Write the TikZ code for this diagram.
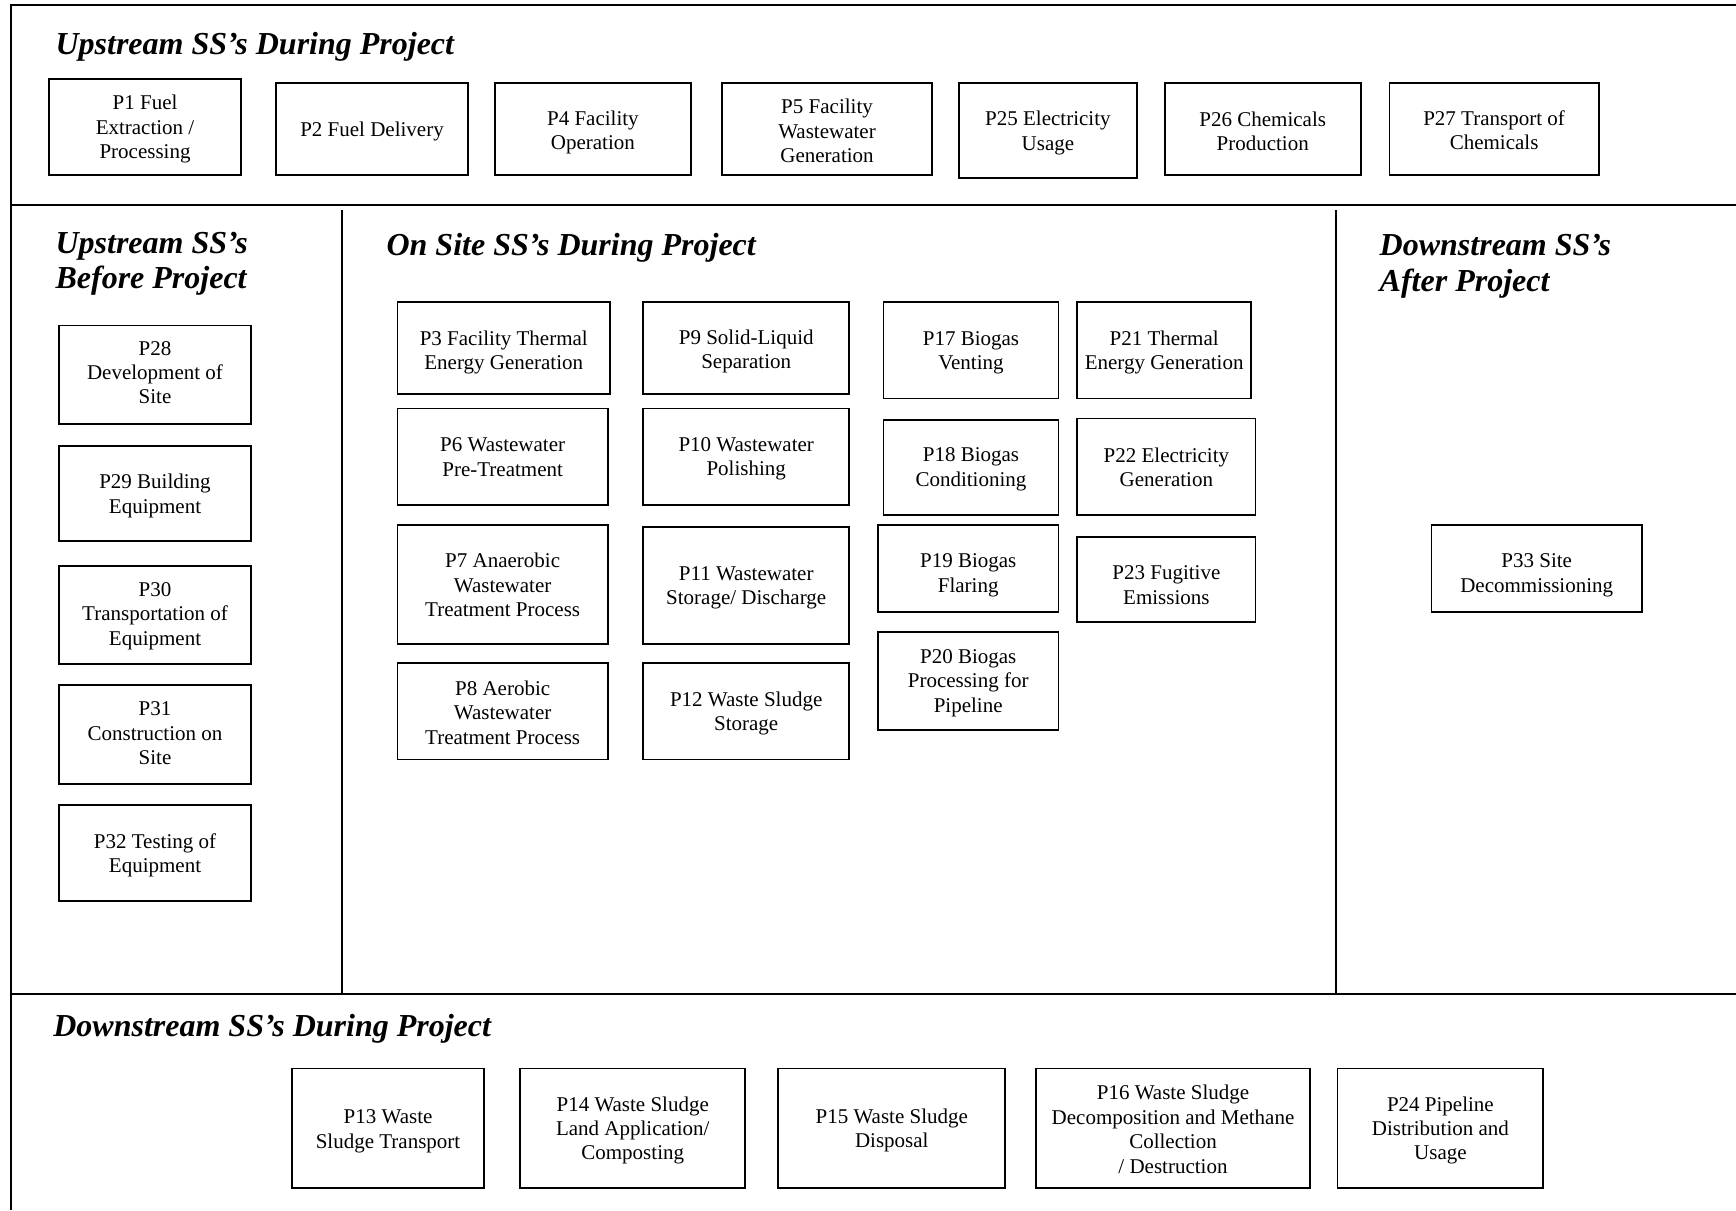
\documentclass[tikz,border=0pt]{standalone}
\usepackage{fontspec}
\setmainfont{Liberation Serif}
\newcommand\bx[7][2]{%
  \node[pbox, minimum width={(#5-#3)*1.1071pt}, minimum height={(#6-#4)*1.1071pt}] (#2) at ({(#3+#5)/2},{(#4+#6)/2}) {};
  \node[ptext] (#2t) at ({(#3+#5)/2},{(#4+#6)/2+#1}) {#7};}
\tikzset{
  pbox/.style={draw=black, line width=1.8pt, inner sep=0pt},
  ptext/.style={inner sep=0pt, align=center, font=\fontsize{21}{24.4}\selectfont},
  head/.style={anchor=base west, inner sep=0pt, font=\fontsize{32}{35}\selectfont\bfseries\itshape},
  sect/.style={line width=2pt, draw=black}
}
\begin{document}
\begin{tikzpicture}[x=1.1071pt, y=-1.1071pt]
\useasboundingbox (0,0) rectangle (1568,1093);
\fill[white] (0,0) rectangle (1568,1093);
% frame and section lines
\coordinate (tl) at (10,4.5);
\coordinate (tr) at (1568,4.5);
\coordinate (bl) at (10,1093);
\coordinate (m1l) at (10,185);
\coordinate (m1r) at (1568,185);
\coordinate (m2l) at (10,898);
\coordinate (m2r) at (1568,898);
\coordinate (v1t) at (309,190);
\coordinate (v1b) at (309,898);
\coordinate (v2t) at (1207,190);
\coordinate (v2b) at (1207,898);
\draw[sect] (tr) -- (tl) -- (bl);
\draw[sect] (m1l) -- (m1r);
\draw[sect] (m2l) -- (m2r);
\draw[sect] (v1t) -- (v1b);
\draw[sect] (v2t) -- (v2b);
% headings
\node[head] (h1) at (50,49) {Upstream SS’s During Project};
\node[head] (h2) at (50,229) {Upstream SS’s};
\node[head] (h2b) at (50,261) {Before Project};
\node[head] (h3) at (349,231) {On Site SS’s During Project};
\node[head] (h4) at (1246,231) {Downstream SS’s};
\node[head] (h4b) at (1246,263) {After Project};
\node[head] (h5) at (48,936) {Downstream SS’s During Project};
% top row
\bx{p1}{44}{71}{218}{158}{P1 Fuel\\Extraction /\\Processing}
\bx{p2}{249}{75}{423}{158}{P2 Fuel Delivery}
\bx[3]{p4}{447}{75}{624}{158}{P4 Facility\\Operation}
\bx{p5}{652}{75}{842}{158}{P5 Facility\\Wastewater\\Generation}
\bx{p25}{866}{75}{1027}{161}{P25 Electricity\\Usage}
\bx{p26}{1052}{75}{1229}{158}{P26 Chemicals\\Production}
\bx[1]{p27}{1255}{75}{1444}{158}{P27 Transport of\\Chemicals}
% before project
\bx[-2]{p28}{53}{294}{227}{383}{P28\\Development of\\Site}
\bx{p29}{53}{403}{227}{489}{P29 Building\\Equipment}
\bx[1]{p30}{53}{511}{227}{600}{P30\\Transportation of\\Equipment}
\bx[-1]{p31}{53}{619}{227}{708}{P31\\Construction on\\Site}
\bx{p32}{53}{727}{227}{814}{P32 Testing of\\Equipment}
% on site
\bx[4]{p3}{359}{273}{551}{356}{P3 Facility Thermal\\Energy Generation}
\bx[0.5]{p6}{359}{369}{549}{456}{P6 Wastewater\\Pre-Treatment}
\bx[0.5]{p7}{359}{474}{549}{582}{P7 Anaerobic\\Wastewater\\Treatment Process}
\bx[1]{p8}{359}{599}{549}{686}{P8 Aerobic\\Wastewater\\Treatment Process}
\bx[3]{p9}{581}{273}{767}{356}{P9 Solid-Liquid\\Separation}
\bx{p10}{581}{369}{767}{456}{P10 Wastewater\\Polishing}
\bx{p11}{581}{476}{767}{582}{P11 Wastewater\\Storage/ Discharge}
\bx{p12}{581}{599}{767}{686}{P12 Waste Sludge\\Storage}
\bx{p17}{798}{273}{956}{360}{P17 Biogas\\Venting}
\bx{p18}{798}{379}{956}{465}{P18 Biogas\\Conditioning}
\bx[6]{p19}{793}{474}{956}{553}{P19 Biogas\\Flaring}
\bx{p20}{793}{571}{956}{659}{P20 Biogas\\Processing for\\Pipeline}
\bx{p21}{973}{273}{1130}{360}{P21 Thermal\\Energy Generation}
\bx[0.5]{p22}{973}{378}{1134}{465}{P22 Electricity\\Generation}
\bx[5]{p23}{973}{485}{1134}{562}{P23 Fugitive\\Emissions}
% after project
\bx[6]{p33}{1293}{474}{1483}{553}{P33 Site\\Decommissioning}
% downstream during
\bx[3]{p13}{264}{965}{437}{1073}{P13 Waste\\Sludge Transport}
\bx{p14}{470}{965}{673}{1073}{P14 Waste Sludge\\Land Application/\\Composting}
\bx{p15}{703}{965}{908}{1073}{P15 Waste Sludge\\Disposal}
\bx[1]{p16}{936}{965}{1183}{1073}{P16 Waste Sludge\\Decomposition and Methane\\Collection\\/ Destruction}
\bx{p24}{1208}{965}{1394}{1073}{P24 Pipeline\\Distribution and\\Usage}
\end{tikzpicture}
\end{document}
